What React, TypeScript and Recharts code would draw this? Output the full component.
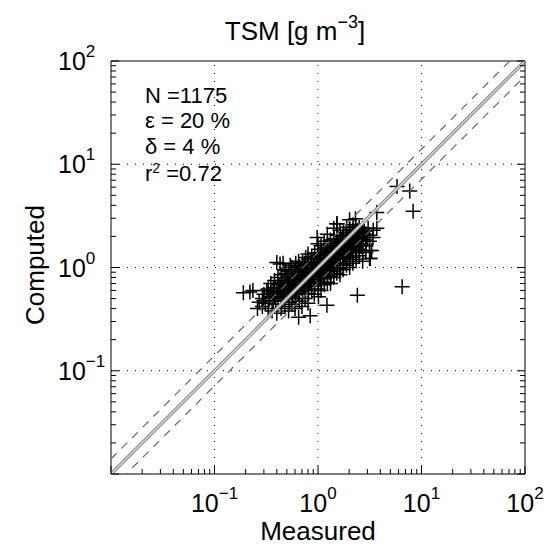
import React from 'react';
import {
  ScatterChart, Scatter, XAxis, YAxis, ReferenceLine, Customized,
} from 'recharts';

// Measured vs computed TSM (g m^-3)
const measured = [
  0.26, 0.27, 0.29, 0.29, 0.31, 0.30, 0.32,
  0.33, 0.34, 0.33, 0.35, 0.36, 0.37, 0.36, 0.37, 0.38,
  0.40, 0.39, 0.41, 0.40, 0.42, 0.41, 0.40, 0.46,
  0.44, 0.45, 0.43, 0.44, 0.45, 0.44, 0.43,
  0.48, 0.47, 0.49, 0.48, 0.47, 0.49, 0.48,
  0.52, 0.53, 0.51, 0.52, 0.53, 0.51, 0.52, 0.54,
  0.56, 0.57, 0.55, 0.56, 0.57, 0.55, 0.56,
  0.60, 0.61, 0.59, 0.60, 0.62, 0.60, 0.59, 0.61,
  0.65, 0.66, 0.64, 0.65, 0.67, 0.65, 0.64, 0.66, 0.65,
  0.70, 0.71, 0.69, 0.70, 0.72, 0.70, 0.69, 0.71,
  0.75, 0.76, 0.74, 0.75, 0.77, 0.75, 0.74, 0.76,
  0.80, 0.81, 0.79, 0.80, 0.82, 0.80, 0.79, 0.81, 0.80,
  0.84, 0.87, 0.85, 0.86, 0.88, 0.86, 0.85, 0.87,
  0.92, 0.93, 0.91, 0.92, 0.94, 0.92, 0.91, 0.93,
  1.00, 1.01, 0.99, 1.00, 1.02, 1.00, 0.99, 1.01, 1.00, 1.01, 0.98,
  1.07, 1.08, 1.06, 1.07, 1.09, 1.07, 1.06, 1.08, 1.07,
  1.15, 1.16, 1.14, 1.15, 1.17, 1.15, 1.14, 1.16, 1.15,
  1.23, 1.24, 1.22, 1.23, 1.25, 1.23, 1.22, 1.24, 1.23,
  1.32, 1.33, 1.31, 1.32, 1.34, 1.32, 1.31, 1.33, 1.32,
  1.42, 1.43, 1.41, 1.42, 1.44, 1.42, 1.41, 1.43, 1.42,
  1.52, 1.53, 1.51, 1.52, 1.54, 1.52, 1.51, 1.53, 1.52,
  1.63, 1.64, 1.62, 1.63, 1.65, 1.63, 1.62, 1.64, 1.63,
  1.75, 1.76, 1.74, 1.75, 1.77, 1.75, 1.74, 1.76,
  1.88, 1.89, 1.87, 1.88, 1.90, 1.88, 1.87, 1.89,
  2.02, 2.03, 2.01, 2.02, 2.04, 2.02, 2.01, 2.03, 2.02,
  2.17, 2.18, 2.16, 2.17, 2.19, 2.17, 2.16, 2.18,
  2.33, 2.34, 2.32, 2.33, 2.35, 2.33, 2.32,
  2.50, 2.51, 2.49, 2.50, 2.52, 2.50,
  2.70, 2.71, 2.69, 2.70, 2.72, 2.70,
  2.90, 2.91, 2.89, 2.90,
  3.15, 3.16, 3.14, 3.15,
  3.40, 3.42, 3.70, 3.70,
];

const computed = [
  0.40, 0.46, 0.42, 0.50, 0.45, 0.55, 0.60,
  0.40, 0.50, 0.62, 0.70, 0.38, 0.47, 0.55, 0.64, 0.75,
  0.36, 0.44, 0.52, 0.60, 0.68, 0.80, 1.12, 1.10,
  0.40, 0.48, 0.55, 0.63, 0.72, 0.85, 1.08,
  0.42, 0.50, 0.58, 0.66, 0.75, 0.88, 0.95,
  0.38, 0.46, 0.54, 0.62, 0.70, 0.80, 0.92, 1.05,
  0.44, 0.52, 0.60, 0.68, 0.77, 0.87, 1.00,
  0.40, 0.50, 0.58, 0.66, 0.74, 0.83, 0.95, 1.10,
  0.33, 0.47, 0.56, 0.64, 0.72, 0.80, 0.90, 1.02, 1.15,
  0.42, 0.55, 0.63, 0.71, 0.79, 0.88, 0.98, 1.12,
  0.50, 0.60, 0.68, 0.76, 0.85, 0.95, 1.08, 1.25,
  0.45, 0.56, 0.66, 0.75, 0.84, 0.93, 1.05, 1.20, 1.35,
  0.34, 0.60, 0.70, 0.80, 0.90, 1.00, 1.12, 1.28,
  0.55, 0.66, 0.76, 0.86, 0.96, 1.08, 1.20, 1.38,
  0.62, 0.72, 0.82, 0.92, 1.02, 1.15, 1.30, 1.50, 1.70, 0.52, 1.95,
  0.60, 0.70, 0.80, 0.90, 1.00, 1.12, 1.25, 1.40, 1.62,
  0.68, 0.78, 0.88, 0.98, 1.10, 1.22, 1.36, 1.55, 1.80,
  0.72, 0.84, 0.95, 1.06, 1.18, 1.32, 1.48, 1.70, 2.10,
  0.70, 0.82, 0.94, 1.05, 1.16, 1.28, 1.42, 1.60, 1.85,
  0.80, 0.92, 1.04, 1.16, 1.30, 1.45, 1.62, 1.90, 2.40,
  0.88, 1.00, 1.12, 1.25, 1.40, 1.58, 1.78, 2.05, 2.65,
  0.85, 0.98, 1.10, 1.24, 1.38, 1.55, 1.75, 2.00, 2.30,
  0.95, 1.08, 1.22, 1.36, 1.52, 1.70, 1.92, 2.20,
  1.05, 1.20, 1.35, 1.50, 1.68, 1.88, 2.10, 2.45,
  1.00, 1.15, 1.30, 1.46, 1.64, 1.84, 2.06, 2.35, 2.90,
  1.10, 1.26, 1.42, 1.60, 1.80, 2.02, 2.28, 2.60,
  1.20, 1.38, 1.56, 1.76, 1.98, 2.22, 2.50,
  1.30, 1.50, 1.70, 1.92, 2.16, 2.45,
  1.15, 1.45, 1.65, 1.88, 2.12, 2.40,
  1.40, 1.62, 1.85, 2.10,
  1.22, 1.46, 1.80, 2.05,
  1.95, 2.30, 2.40, 3.40,
];

// extra points filling the dense core of the cloud
const coreMeasured = [
  0.30, 0.35, 0.38, 0.42, 0.46, 0.50, 0.54, 0.58, 0.62, 0.63,
  0.68, 0.72, 0.73, 0.78, 0.83, 0.84, 0.89, 0.95, 0.97, 1.03,
  1.04, 1.10, 1.12, 1.19, 1.20, 1.27, 1.28, 1.37, 1.38, 1.47,
  1.48, 1.58, 1.58, 1.69, 1.70, 1.82, 1.82, 1.95, 1.95, 2.10,
  2.10, 2.25, 2.25, 2.42, 2.42, 2.60, 2.60, 2.80, 3.00, 3.05,
];
const coreComputed = [
  0.48, 0.58, 0.52, 0.58, 0.60, 0.70, 0.58, 0.72, 0.62, 0.85,
  0.76, 0.66, 0.92, 0.80, 0.72, 0.98, 0.84, 0.92, 1.10, 0.86,
  1.22, 1.05, 0.84, 1.15, 1.42, 1.00, 1.25, 1.35, 1.10, 1.52,
  1.22, 1.32, 1.66, 1.45, 1.85, 1.60, 1.30, 1.75, 1.42, 1.90,
  1.55, 2.10, 1.68, 1.85, 2.30, 2.00, 1.62, 2.25, 1.95, 2.40,
];

const outlierMeasured = [0.19, 0.235, 0.22, 2.4, 1.22, 6.5, 8.3, 5.8, 7.7, 3.2, 3.3, 1.53, 2.3];
const outlierComputed = [0.57, 0.60, 0.58, 0.54, 0.43, 0.65, 3.5, 6.1, 5.5, 1.22, 1.46, 2.66, 2.97];

const decades = [0.01, 0.1, 1, 10];
const multipliers = [1, 2, 3, 4, 5, 6, 7, 8, 9];
const gridValues = [0.1, 1, 10];
const domain: [number, number] = [0.01, 100];
const band = 1.4; // dashed lines at computed = measured * 1.4 and / 1.4

const allTicks = [...decades.flatMap((d) => multipliers.map((m) => d * m)), 100];

const points = [
  ...measured.map((m, i) => ({ x: m, y: computed[i] })),
  ...coreMeasured.map((m, i) => ({ x: m, y: coreComputed[i] })),
  ...outlierMeasured.map((m, i) => ({ x: m, y: outlierComputed[i] })),
];

const FONT = '"Liberation Sans", Arial, Helvetica, sans-serif';

const isMajor = (v: number) => Math.abs(Math.log10(v) - Math.round(Math.log10(v))) < 1e-6;
const expText = (v: number) => {
  const e = Math.round(Math.log10(v));
  return e < 0 ? `\u2212${-e}` : `${e}`;
};

const BottomTick = (props: any) => {
  const { x, y, payload } = props;
  const v = payload.value;
  const major = isMajor(v);
  return (
    <g>
      <line x1={x} y1={y} x2={x} y2={y - (major ? 8 : 5)} stroke="#000" />
      {major && v > 0.011 && (
        <text x={x} y={y + 38} textAnchor="middle" fontSize={25} fontFamily={FONT} fill="#000">
          10<tspan dy={-13} fontSize={17}>{expText(v)}</tspan>
        </text>
      )}
    </g>
  );
};

const TopTick = (props: any) => {
  const { x, y, payload } = props;
  const major = isMajor(payload.value);
  return <line x1={x} y1={y} x2={x} y2={y + (major ? 8 : 5)} stroke="#000" />;
};

const LeftTick = (props: any) => {
  const { x, y, payload } = props;
  const v = payload.value;
  const major = isMajor(v);
  return (
    <g>
      <line x1={x} y1={y} x2={x + (major ? 8 : 5)} y2={y} stroke="#000" />
      {major && v > 0.011 && (
        <text x={x - 53} y={y + 9} textAnchor="start" fontSize={25} fontFamily={FONT} fill="#000">
          10<tspan dy={-13} fontSize={17}>{expText(v)}</tspan>
        </text>
      )}
    </g>
  );
};

const RightTick = (props: any) => {
  const { x, y, payload } = props;
  const major = isMajor(payload.value);
  return <line x1={x} y1={y} x2={x - (major ? 8 : 5)} y2={y} stroke="#000" />;
};

const Plus = (props: any) => {
  const { cx, cy } = props;
  if (cx == null || cy == null) return null;
  return (
    <path
      d={`M${cx - 7.5},${cy}H${cx + 7.5}M${cx},${cy - 7.5}V${cy + 7.5}`}
      stroke="#000"
      strokeWidth={1.5}
      fill="none"
    />
  );
};

const Annotations = () => (
  <g fontFamily={FONT} fill="#000">
    <text x={295} y={40} textAnchor="middle" fontSize={26}>
      TSM [g m<tspan dy={-12} fontSize={18}>{'\u22123'}</tspan>
      <tspan dy={12}>]</tspan>
    </text>
    <text x={145} y={103} fontSize={22}>N =1175</text>
    <text x={145} y={128} fontSize={22}>{'\u03b5 = 20 %'}</text>
    <text x={145} y={154} fontSize={22}>{'\u03b4 = 4 %'}</text>
    <text x={145} y={181} fontSize={22}>
      r<tspan dy={-8} fontSize={14}>2</tspan>
      <tspan dy={8}> =0.72</tspan>
    </text>
    <text x={318} y={540} textAnchor="middle" fontSize={26}>Measured</text>
    <text x={44} y={265} textAnchor="middle" fontSize={26} transform="rotate(-90 44 265)">Computed</text>
  </g>
);

export default function App() {
  return (
    <div style={{ position: 'absolute', left: 0, top: 0, width: 558, height: 546, background: '#fff' }}>
      <ScatterChart width={558} height={546} margin={{ top: 60, right: 32, bottom: 32, left: 51 }}>
        <XAxis
          xAxisId={0} dataKey="x" type="number" scale="log" domain={domain} allowDataOverflow
          ticks={allTicks} interval={0} height={40} tickSize={0} tickMargin={0} tickLine={false}
          axisLine={{ stroke: '#000' }} tick={<BottomTick />}
        />
        <XAxis
          xAxisId="top" orientation="top" type="number" scale="log" domain={domain} allowDataOverflow
          ticks={allTicks} interval={0} height={1} tickSize={0} tickMargin={0} tickLine={false}
          axisLine={{ stroke: '#000' }} tick={<TopTick />}
        />
        <YAxis
          yAxisId={0} dataKey="y" type="number" scale="log" domain={domain} allowDataOverflow
          ticks={allTicks} interval={0} width={60} tickSize={0} tickMargin={0} tickLine={false}
          axisLine={{ stroke: '#000' }} tick={<LeftTick />}
        />
        <YAxis
          yAxisId="right" orientation="right" type="number" scale="log" domain={domain} allowDataOverflow
          ticks={allTicks} interval={0} width={1} tickSize={0} tickMargin={0} tickLine={false}
          axisLine={{ stroke: '#000' }} tick={<RightTick />}
        />
        {gridValues.map((g) => (
          <ReferenceLine key={`gx${g}`} x={g} stroke="#000" strokeDasharray="1 7" />
        ))}
        {gridValues.map((g) => (
          <ReferenceLine key={`gy${g}`} y={g} stroke="#000" strokeDasharray="1 7" />
        ))}
        <Scatter data={points} shape={<Plus />} isAnimationActive={false} />
        <ReferenceLine
          segment={[{ x: domain[0], y: domain[0] * band }, { x: domain[1], y: domain[1] * band }]}
          stroke="#666" strokeWidth={1.2} strokeDasharray="8 7" ifOverflow="hidden" zIndex={700}
        />
        <ReferenceLine
          segment={[{ x: domain[0], y: domain[0] / band }, { x: domain[1], y: domain[1] / band }]}
          stroke="#666" strokeWidth={1.2} strokeDasharray="8 7" ifOverflow="hidden" zIndex={700}
        />
        <ReferenceLine
          segment={[{ x: domain[0], y: domain[0] }, { x: domain[1], y: domain[1] }]}
          stroke="#8c8c8c" strokeWidth={3.5} ifOverflow="hidden" zIndex={700}
        />
        <ReferenceLine
          segment={[{ x: domain[0], y: domain[0] }, { x: domain[1], y: domain[1] }]}
          stroke="#e6e6e6" strokeWidth={1.1} ifOverflow="hidden" zIndex={700}
        />
        <Customized component={Annotations} />
      </ScatterChart>
    </div>
  );
}
